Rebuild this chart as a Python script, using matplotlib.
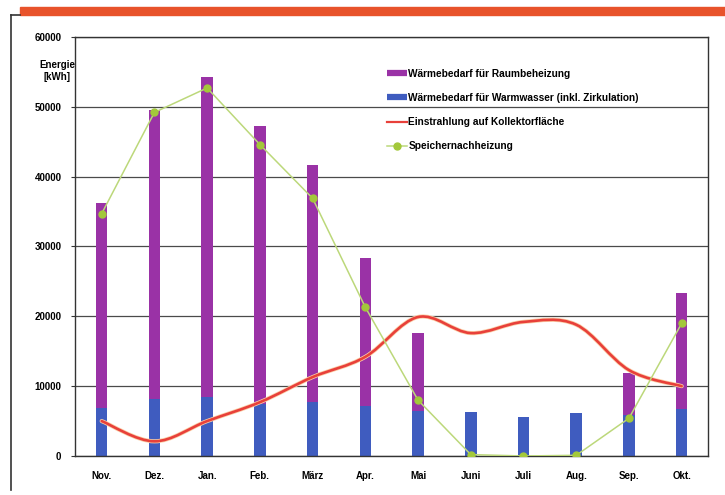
import numpy as np
import matplotlib
matplotlib.use('Agg')
import matplotlib.pyplot as plt
from matplotlib.path import Path
from matplotlib.patches import PathPatch, Rectangle
from matplotlib.lines import Line2D

plt.rcParams['font.family'] = ['Liberation Sans', 'DejaVu Sans']
plt.rcParams['font.weight'] = 'bold'

# data (kWh per month)
months = ['Nov.', 'Dez.', 'Jan.', 'Feb.', 'März', 'Apr.', 'Mai', 'Juni', 'Juli', 'Aug.', 'Sep.', 'Okt.']
warmwasser = [6900, 8100, 8400, 7400, 7700, 7200, 6500, 6300, 5600, 6200, 5800, 6800]
raumheizung = [29300, 41400, 45900, 39900, 34000, 21100, 11100, 0, 0, 0, 6100, 16500]
einstrahlung = [5000, 2100, 5000, 7700, 11300, 14200, 19900, 17600, 19200, 18800, 12300, 10000]
speicher = [34700, 49200, 52700, 44600, 36900, 21300, 8000, 200, 0, 100, 5400, 19000]

c_raum = '#9a32a6'
c_ww = '#3f5cbf'
c_red = '#e8403a'
c_glow = '#fbd0a8'
c_green_line = '#bcd87a'
c_green_mk = '#a3c83a'


def smooth_path(x, y):
    # cubic bezier through the points (excel style smoothed line)
    pts = np.column_stack([x, y]).astype(float)
    n = len(pts)
    verts = [pts[0]]
    codes = [Path.MOVETO]
    for i in range(n - 1):
        p0 = pts[max(i - 1, 0)]
        p1 = pts[i]
        p2 = pts[i + 1]
        p3 = pts[min(i + 2, n - 1)]
        c1 = p1 + (p2 - p0) / 6.0
        c2 = p2 - (p3 - p1) / 6.0
        verts += [c1, c2, p2]
        codes += [Path.CURVE4] * 3
    return Path(verts, codes)


fig = plt.figure(figsize=(7.25, 4.95), dpi=100)
ax = fig.add_axes([0.1039, 0.0788, 0.8727, 0.8465])

x = np.arange(len(months))
w = 0.22
ax.bar(x, warmwasser, w, color=c_ww, zorder=2)
ax.bar(x, raumheizung, w, bottom=warmwasser, color=c_raum, zorder=2)

pth = smooth_path(x, einstrahlung)
ax.add_patch(PathPatch(pth, fill=False, edgecolor=c_glow, lw=3.0, zorder=3,
                       capstyle='round', joinstyle='round'))
ax.add_patch(PathPatch(pth, fill=False, edgecolor=c_red, lw=1.9, zorder=3,
                       capstyle='round', joinstyle='round'))

ax.plot(x, speicher, '-', color=c_green_line, lw=1.1, zorder=4)
ax.plot(x, speicher, 'o', color=c_green_mk, ms=5, mec=c_green_mk, zorder=5)

ax.set_xlim(-0.5, len(months) - 0.5)
ax.set_ylim(0, 60000)
ax.set_yticks(np.arange(0, 60001, 10000))
ax.set_xticks(x)
ax.set_xticklabels(months)
ax.tick_params(axis='x', length=0, pad=11, labelsize=7)
ax.tick_params(axis='y', length=3, width=0.8, pad=7, labelsize=7, color='#333333')
ax.grid(axis='y', color='#4a4a4a', lw=0.9, zorder=1)
ax.set_axisbelow(True)
for s in ax.spines.values():
    s.set_color('#333333')
    s.set_linewidth(1.0)

fig.text(57 / 725, 1 - 71 / 495, 'Energie\n[kWh]', ha='center', va='center',
         fontsize=7, weight='bold', linespacing=1.3)

handles = [
    Line2D([], [], color=c_raum, lw=4.5, solid_capstyle='butt'),
    Line2D([], [], color=c_ww, lw=4.5, solid_capstyle='butt'),
    Line2D([], [], color=c_red, lw=1.6),
    Line2D([], [], color=c_green_line, lw=1.1, marker='o', ms=5,
           mfc=c_green_mk, mec=c_green_mk),
]
labels = ['Wärmebedarf für Raumbeheizung',
          'Wärmebedarf für Warmwasser (inkl. Zirkulation)',
          'Einstrahlung auf Kollektorfläche',
          'Speichernachheizung']
leg = ax.legend(handles, labels, loc='upper left', bbox_to_anchor=(0.492, 0.924),
                frameon=False, fontsize=7.3, handlelength=2.0, handletextpad=0.15,
                labelspacing=1.4, borderpad=0, borderaxespad=0)
for t in leg.get_texts():
    t.set_fontweight('bold')

# page decoration: orange strip and frame lines
fig.patches.append(Rectangle((20 / 725, 1 - 15 / 495), 1 - 20 / 725, 8 / 495,
                             transform=fig.transFigure, color='#e8532b', zorder=0))
fig.lines.append(Line2D([11 / 725, 11 / 725], [0.01, 1 - 15 / 495],
                        transform=fig.transFigure, color='#333333', lw=1.2))
fig.lines.append(Line2D([11 / 725, 20 / 725], [1 - 15 / 495, 1 - 15 / 495],
                        transform=fig.transFigure, color='#333333', lw=1.2))

fig.savefig('out.png', dpi=100)
